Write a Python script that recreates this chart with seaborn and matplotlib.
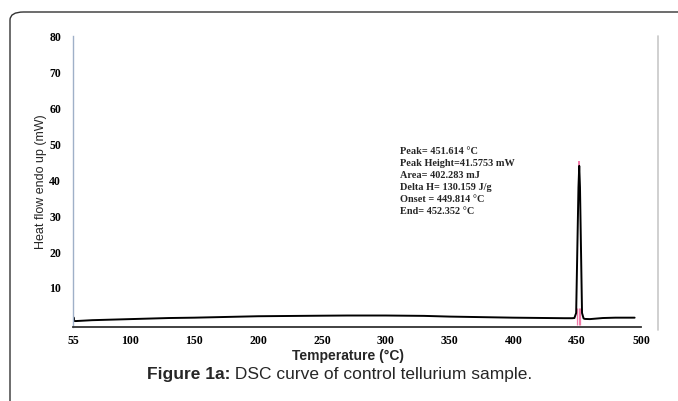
import matplotlib
matplotlib.use("Agg")
import matplotlib.pyplot as plt
import seaborn as sns
import pandas as pd
from matplotlib.patches import FancyBboxPatch
from matplotlib.lines import Line2D

# ---- data ----
temperature = [55.0, 55.4, 55.8, 57, 70, 100, 130, 150, 200, 250, 270, 300, 330,
               350, 400, 440, 446, 447.8, 449.2, 451.0, 451.614, 452.2, 453.8,
               455.0, 456, 460, 470, 480, 495]
heat_flow = [0.8, 1.8, 0.8, 0.75, 1.0, 1.3, 1.6, 1.7, 2.1, 2.25, 2.3, 2.3, 2.2,
             2.0, 1.7, 1.55, 1.55, 1.6, 3.0, 38.0, 44.0, 38.0, 3.0,
             1.5, 1.35, 1.3, 1.6, 1.7, 1.7]
x_ticks = [55, 100, 150, 200, 250, 300, 350, 400, 450, 500]
y_ticks = [0, 10, 20, 30, 40, 50, 60, 70, 80]
y_tick_labels = ["", "10", "20", "30", "40", "50", "60", "70", "80"]
marker_temps = [449.814, 451.614, 452.352]
peak_value = 44.0
annotation_lines = [
    "Peak= 451.614 °C",
    "Peak Height=41.5753 mW",
    "Area= 402.283 mJ",
    "Delta H= 130.159 J/g",
    "Onset = 449.814 °C",
    "End= 452.352 °C",
]

df = pd.DataFrame({"Temperature": temperature, "HeatFlow": heat_flow})

sns.set_style("white")
plt.rcParams["font.family"] = ["Liberation Sans", "DejaVu Sans"]

fig = plt.figure(figsize=(6.78, 4.01), dpi=100)
ax = fig.add_axes([73 / 678, 1 - 327 / 401, (641 - 73) / 678, (327 - 36) / 401])

sns.lineplot(data=df, x="Temperature", y="HeatFlow", ax=ax, color="black",
             linewidth=1.4, sort=False, estimator=None)

# pink markers at onset / peak / end
ax.vlines(marker_temps, -0.4, 4.5, colors="#f07aa8", linewidth=0.9, zorder=1)
ax.vlines([marker_temps[1]], peak_value - 0.8, peak_value + 1.5,
          colors="#f07aa8", linewidth=1.4, zorder=1)

ax.set_xlim(55, 500)
ax.set_ylim(-0.9, 80.2)
ax.set_xticks(x_ticks)
ax.set_yticks(y_ticks)
ax.set_yticklabels(y_tick_labels)

for lab in ax.get_xticklabels() + ax.get_yticklabels():
    lab.set_fontfamily(["Liberation Serif", "DejaVu Serif"])
    lab.set_fontweight("bold")
    lab.set_fontsize(8.5)

ax.tick_params(axis="x", direction="in", length=3, width=0.8, pad=6, colors="black")
ax.tick_params(axis="y", direction="out", length=2.5, width=0.8, pad=6, colors="#7f8fa8",
               labelcolor="black")

for s in ["top", "right"]:
    ax.spines[s].set_visible(False)
ax.spines["left"].set_color("#9fb0c8")
ax.spines["left"].set_linewidth(1.0)
ax.spines["bottom"].set_color("#333333")
ax.spines["bottom"].set_linewidth(1.3)

ax.set_xlabel("Temperature (°C)", fontsize=10, fontweight="bold")
ax.xaxis.set_label_coords(0.485, -0.075)
ax.set_ylabel("Heat flow endo up (mW)", fontsize=9)
ax.yaxis.set_label_coords(-0.045, 0.5)

# annotation block
ax.text(311, 49.2, "\n".join(annotation_lines), fontsize=7.4,
        fontfamily=["Liberation Serif", "DejaVu Serif"], fontweight="bold",
        va="top", ha="left", linespacing=1.42)

# decorative frame and right border of the chart image
frame = FancyBboxPatch((10 / 678, -0.2), 1.2, 0.2 + (1 - 12 / 401),
                       boxstyle="round,pad=0,rounding_size=0.02",
                       transform=fig.transFigure, fill=False,
                       edgecolor="#333333", linewidth=1.0)
fig.add_artist(frame)
fig.add_artist(Line2D([658 / 678, 658 / 678], [1 - 330 / 401, 1 - 36 / 401],
                      transform=fig.transFigure, color="#c8c8c8", linewidth=1.2))

# caption
t1 = fig.text(147 / 678, 1 - 379 / 401, "Figure 1a:", fontsize=12.5,
              fontweight="bold", ha="left", va="baseline")
ax.annotate(" DSC curve of control tellurium sample.", xy=(1, 0),
            xycoords=t1, va="bottom", ha="left", fontsize=12.5,
            annotation_clip=False)

fig.savefig("out.png", dpi=100)
